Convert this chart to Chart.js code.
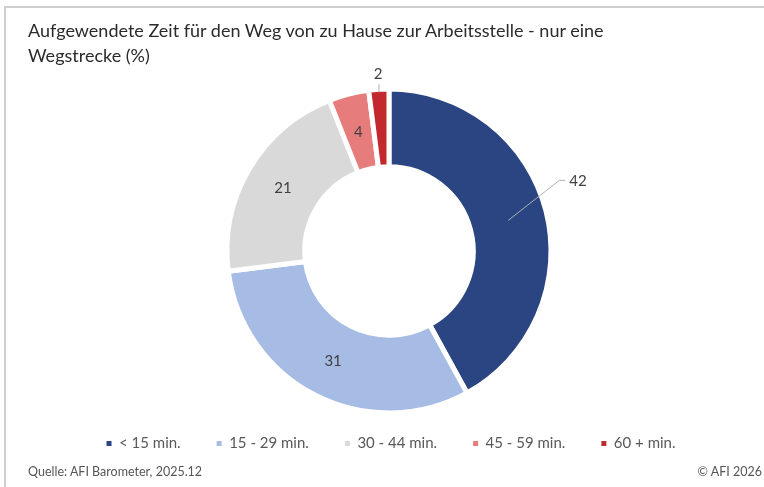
<!DOCTYPE html>
<html>
<head>
<meta charset="utf-8">
<script src="https://cdn.jsdelivr.net/npm/chart.js@4"></script>
<style>
  html, body { margin: 0; padding: 0; background: #fff; }
  body { width: 764px; height: 487px; position: relative; overflow: hidden; font-family: Lato, sans-serif; }
  .frame { position: absolute; left: 4px; top: 6px; right: -4px; bottom: -4px; border: 2px solid #cfcfcf; }
  .title { position: absolute; left: 28px; top: 18px; font-size: 18px; line-height: 25px; color: #2b2b2b; }
  .source { position: absolute; left: 28px; top: 464px; font-size: 12.5px; color: #555; }
  .copy { position: absolute; right: 2px; top: 464px; font-size: 12.5px; color: #555; }
  .wrap { position: absolute; left: 0; top: 0; width: 764px; height: 487px; }
</style>
</head>
<body>
<div class="frame"></div>
<div class="wrap"><canvas id="donutChart"></canvas></div>
<div class="title">Aufgewendete Zeit für den Weg von zu Hause zur Arbeitsstelle - nur eine<br>Wegstrecke (%)</div>
<div class="source">Quelle: AFI Barometer, 2025.12</div>
<div class="copy">© AFI 2026</div>

<script>
// Data
const categories = ['< 15 min.', '15 - 29 min.', '30 - 44 min.', '45 - 59 min.', '60 + min.'];
const shares = [42, 31, 21, 4, 2];
const sliceColors = ['#2b4582', '#a6bce5', '#d9d9d9', '#e77c7c', '#c3282d'];

// puts the ring where it sits in the original
const placeRing = {
    id: 'placeRing',
    afterLayout(chart, args, opts) {
        const a = chart.chartArea;
        const half = opts.size / 2;
        a.left = opts.cx - half; a.right = opts.cx + half;
        a.top = opts.cy - half; a.bottom = opts.cy + half;
        a.width = opts.size; a.height = opts.size;
    }
};

// value labels, inside the ring or outside with a leader line
const sliceLabels = {
    id: 'sliceLabels',
    afterDatasetsDraw(chart, args, opts) {
        const ctx = chart.ctx;
        const meta = chart.getDatasetMeta(0);
        const values = chart.data.datasets[0].data;
        ctx.save();
        ctx.font = '15px Lato, sans-serif';
        ctx.fillStyle = '#404040';
        meta.data.forEach((arc, i) => {
            const p = arc.getProps(['x', 'y', 'startAngle', 'endAngle', 'innerRadius', 'outerRadius'], true);
            const mid = (p.startAngle + p.endAngle) / 2;
            const ringR = (p.innerRadius + p.outerRadius) / 2;
            const out = opts.outside[i];
            if (!out) {
                ctx.textAlign = 'center';
                ctx.textBaseline = 'middle';
                ctx.fillText(values[i], p.x + Math.cos(mid) * ringR, p.y + Math.sin(mid) * ringR);
                return;
            }
            const r0 = out.from === 'outer' ? p.outerRadius - 3 : ringR;
            const sx = p.x + Math.cos(mid) * r0;
            const sy = p.y + Math.sin(mid) * r0;
            const ex = sx + out.dx;
            const ey = sy + out.dy;
            ctx.strokeStyle = '#b0b0b0';
            ctx.lineWidth = 1;
            ctx.beginPath();
            ctx.moveTo(sx, sy);
            ctx.lineTo(ex, ey);
            if (out.tail) ctx.lineTo(ex + out.tail, ey);
            ctx.stroke();
            if (out.tail) {
                ctx.textAlign = 'left';
                ctx.textBaseline = 'middle';
                ctx.fillText(values[i], ex + out.tail + 4, ey + 1);
            } else {
                ctx.textAlign = 'center';
                ctx.textBaseline = 'bottom';
                ctx.fillText(values[i], ex - 1, ey - 3);
            }
        });
        ctx.restore();
    }
};

new Chart(document.getElementById('donutChart'), {
    type: 'doughnut',
    data: {
        labels: categories,
        datasets: [{
            data: shares,
            backgroundColor: sliceColors,
            borderColor: '#ffffff',
            borderWidth: 5
        }]
    },
    options: {
        responsive: true,
        maintainAspectRatio: false,
        animation: false,
        cutout: '52%',
        layout: { padding: { left: 18, right: 0, top: 0, bottom: 26 } },
        plugins: {
            tooltip: { enabled: false },
            placeRing: { cx: 389, cy: 251, size: 329 },
            sliceLabels: {
                outside: {
                    0: { from: 'mid', dx: 51, dy: -40, tail: 6 },
                    4: { from: 'outer', dx: 0, dy: -8, tail: 0 }
                }
            },
            legend: {
                position: 'bottom',
                labels: {
                    font: { family: 'Lato', size: 15 },
                    color: '#595959',
                    boxWidth: 5,
                    boxHeight: 5,
                    padding: 36,
                    generateLabels(chart) {
                        const base = Chart.overrides.doughnut.plugins.legend.labels.generateLabels(chart);
                        return base.map(item => ({ ...item, lineWidth: 0 }));
                    }
                }
            }
        }
    },
    plugins: [placeRing, sliceLabels]
});
</script>
</body>
</html>
